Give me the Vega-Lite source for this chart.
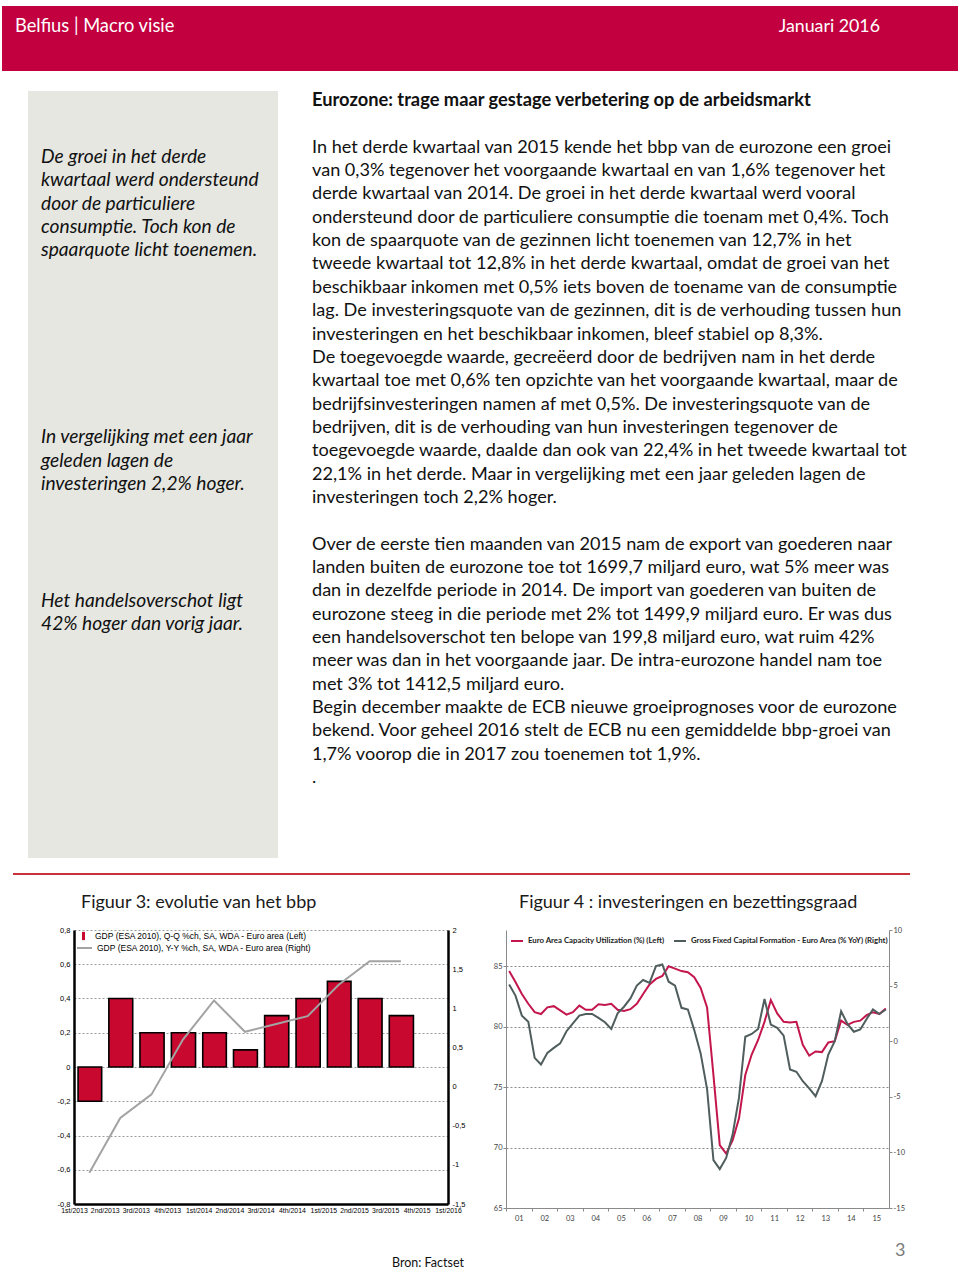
{
  "$schema": "https://vega.github.io/schema/vega-lite/v6.json",
  "background": "white",
  "padding": {"left": 2, "top": 6, "right": 0, "bottom": 0},
  "config": {"view": {"stroke": null}, "font": "Lato"},
  "spacing": 0,
  "bounds": "full",
  "resolve": {"scale": {"color": "independent", "fill": "independent", "stroke": "independent"}, "legend": {"color": "independent", "fill": "independent", "stroke": "independent"}},
  "vconcat": [
    {
      "width": 956, "height": 65,
      "view": {"fill": "#c3003f", "stroke": null},
      "layer": [
        {"data": {"values": [{"t": "Belfius | Macro visie"}]},
         "mark": {"type": "text", "align": "left", "baseline": "middle", "font": "Lato", "fontSize": 18.3, "color": "#ffffff"},
         "encoding": {"text": {"field": "t"}, "x": {"value": 13}, "y": {"value": 20.5}}},
        {"data": {"values": [{"t": "Januari 2016"}]},
         "mark": {"type": "text", "align": "right", "baseline": "middle", "font": "Lato", "fontSize": 17.8, "color": "#ffffff"},
         "encoding": {"text": {"field": "t"}, "x": {"value": 878}, "y": {"value": 20.5}}}
      ]
    },
    {"width": 1, "height": 20, "data": {"values": []}, "mark": {"type": "text", "text": ""}},
    {
      "spacing": 0,
      "bounds": "flush",
      "hconcat": [
        {"width": 26, "height": 767, "data": {"values": []}, "mark": {"type": "text", "text": ""}},
        {
          "width": 250, "height": 767,
          "view": {"fill": "#e6e7e1", "stroke": null},
          "data": {"values": [
            {"line": 0, "text": "De groei in het derde"},
            {"line": 1, "text": "kwartaal werd  ondersteund"},
            {"line": 2, "text": "door de particuliere"},
            {"line": 3, "text": "consumptie. Toch kon de"},
            {"line": 4, "text": "spaarquote licht toenemen."},
            {"line": 12, "text": " In vergelijking met een jaar"},
            {"line": 13, "text": "geleden lagen de"},
            {"line": 14, "text": "investeringen 2,2% hoger."},
            {"line": 19, "text": "Het handelsoverschot ligt"},
            {"line": 20, "text": "42% hoger dan vorig jaar."}
          ]},
          "mark": {"type": "text", "align": "left", "baseline": "middle", "font": "Lato", "fontStyle": "italic", "fontSize": 19.2, "color": "#111111"},
          "encoding": {
            "text": {"field": "text"},
            "x": {"value": 13},
            "y": {"field": "line", "type": "quantitative", "scale": {"domain": [0, 20], "range": [66, 533]}, "axis": null}
          }
        },
        {"width": 34, "height": 767, "data": {"values": []}, "mark": {"type": "text", "text": ""}},
        {
          "width": 600, "height": 767,
          "layer": [
            {
              "data": {"values": [{"line": 0, "text": "Eurozone: trage maar gestage verbetering op de arbeidsmarkt"}]},
              "mark": {"type": "text", "align": "left", "baseline": "middle", "font": "Lato", "fontWeight": "bold", "fontSize": 18.3, "color": "#111111"},
              "encoding": {
                "text": {"field": "text"},
                "x": {"value": 0},
                "y": {"field": "line", "type": "quantitative", "scale": {"domain": [0, 29], "range": [10, 687.2]}, "axis": null}
              }
            },
            {
              "data": {"values": [
                {"line": 2, "text": "In het derde kwartaal van 2015 kende het bbp van de eurozone een groei"},
                {"line": 3, "text": "van  0,3% tegenover het voorgaande kwartaal en van 1,6% tegenover het"},
                {"line": 4, "text": "derde kwartaal van 2014. De groei in het derde kwartaal werd vooral"},
                {"line": 5, "text": "ondersteund door de particuliere consumptie die toenam met 0,4%. Toch"},
                {"line": 6, "text": "kon de spaarquote van de gezinnen licht toenemen van 12,7% in het"},
                {"line": 7, "text": "tweede kwartaal tot 12,8% in het derde kwartaal, omdat de groei van het"},
                {"line": 8, "text": "beschikbaar inkomen met 0,5% iets boven de toename van de consumptie"},
                {"line": 9, "text": "lag. De investeringsquote van de gezinnen, dit is de verhouding tussen hun"},
                {"line": 10, "text": "investeringen en het beschikbaar inkomen, bleef stabiel op 8,3%."},
                {"line": 11, "text": "De toegevoegde waarde, gecreëerd door de bedrijven nam in het derde"},
                {"line": 12, "text": "kwartaal toe met 0,6% ten opzichte van het voorgaande kwartaal, maar de"},
                {"line": 13, "text": "bedrijfsinvesteringen namen af met 0,5%. De investeringsquote van de"},
                {"line": 14, "text": "bedrijven, dit is  de verhouding van hun investeringen tegenover de"},
                {"line": 15, "text": "toegevoegde waarde, daalde dan ook van 22,4% in het tweede kwartaal tot"},
                {"line": 16, "text": "22,1% in het derde. Maar in vergelijking met een jaar geleden lagen de"},
                {"line": 17, "text": "investeringen toch 2,2% hoger."},
                {"line": 19, "text": "Over de eerste tien maanden van 2015 nam de export van goederen naar"},
                {"line": 20, "text": "landen buiten de eurozone toe tot 1699,7 miljard euro, wat 5% meer was"},
                {"line": 21, "text": "dan in dezelfde periode in 2014. De import van goederen van buiten de"},
                {"line": 22, "text": "eurozone steeg in die periode met 2% tot 1499,9 miljard euro. Er was dus"},
                {"line": 23, "text": "een handelsoverschot ten belope van 199,8 miljard euro, wat ruim 42%"},
                {"line": 24, "text": "meer was dan in het voorgaande jaar. De intra-eurozone handel nam toe"},
                {"line": 25, "text": "met 3% tot 1412,5 miljard euro."},
                {"line": 26, "text": "Begin december maakte de ECB nieuwe groeiprognoses voor de eurozone"},
                {"line": 27, "text": "bekend. Voor geheel 2016 stelt de ECB nu een gemiddelde bbp-groei van"},
                {"line": 28, "text": "1,7% voorop  die in 2017 zou toenemen tot 1,9%."},
                {"line": 29, "text": "."}
              ]},
              "mark": {"type": "text", "align": "left", "baseline": "middle", "font": "Lato", "fontSize": 18.1, "color": "#111111"},
              "encoding": {
                "text": {"field": "text"},
                "x": {"value": 0},
                "y": {"field": "line", "type": "quantitative", "scale": {"domain": [0, 29], "range": [10, 687.2]}, "axis": null}
              }
            }
          ]
        }
      ]
    },
    {"width": 1, "height": 15, "data": {"values": []}, "mark": {"type": "text", "text": ""}},
    {
      "spacing": 0,
      "bounds": "flush",
      "hconcat": [
        {"width": 11, "height": 2, "data": {"values": []}, "mark": {"type": "text", "text": ""}},
        {"width": 897, "height": 2, "view": {"fill": "#c8323a", "stroke": null}, "data": {"values": []}, "mark": {"type": "text", "text": ""}}
      ]
    },
    {
      "width": 956, "height": 50.25,
      "layer": [
        {"data": {"values": [{"t": "Figuur 3: evolutie van het bbp"}]},
         "mark": {"type": "text", "align": "left", "baseline": "middle", "font": "Lato", "fontSize": 18, "color": "#1a1a1a"},
         "encoding": {"text": {"field": "t"}, "x": {"value": 79}, "y": {"value": 28}}},
        {"data": {"values": [{"t": "Figuur 4 : investeringen en bezettingsgraad"}]},
         "mark": {"type": "text", "align": "left", "baseline": "middle", "font": "Lato", "fontSize": 18, "color": "#1a1a1a"},
         "encoding": {"text": {"field": "t"}, "x": {"value": 517}, "y": {"value": 28}}}
      ]
    },
    {
      "spacing": 0,
      "bounds": "flush",
      "resolve": {"scale": {"color": "independent", "fill": "independent", "stroke": "independent"}, "legend": {"color": "independent", "fill": "independent", "stroke": "independent"}},
      "hconcat": [
        {"width": 72, "height": 278, "data": {"values": []}, "mark": {"type": "text", "text": ""}},
        {
          "width": 374, "height": 274,
          "data": {"values": [
            {"quarter": "2013-01-01", "qoq": -0.2, "yoy": -1.1},
            {"quarter": "2013-04-01", "qoq": 0.4, "yoy": -0.4},
            {"quarter": "2013-07-01", "qoq": 0.2, "yoy": -0.1},
            {"quarter": "2013-10-01", "qoq": 0.2, "yoy": 0.6},
            {"quarter": "2014-01-01", "qoq": 0.2, "yoy": 1.1},
            {"quarter": "2014-04-01", "qoq": 0.1, "yoy": 0.7},
            {"quarter": "2014-07-01", "qoq": 0.3, "yoy": 0.8},
            {"quarter": "2014-10-01", "qoq": 0.4, "yoy": 0.9},
            {"quarter": "2015-01-01", "qoq": 0.5, "yoy": 1.3},
            {"quarter": "2015-04-01", "qoq": 0.4, "yoy": 1.6},
            {"quarter": "2015-07-01", "qoq": 0.3, "yoy": 1.6}
          ]},
          "layer": [
            {
              "mark": {"type": "bar", "stroke": "#000000", "strokeWidth": 1.6, "width": {"band": 0.8}},
              "encoding": {
                "x": {"field": "quarter", "type": "temporal", "timeUnit": "utcyearquarter", "title": null,
                  "scale": {"type": "utc", "domain": [{"year": 2013, "month": 1, "date": 1, "utc": true}, {"year": 2016, "month": 1, "date": 1, "utc": true}]},
                  "axis": {
                    "values": [
                      {"year": 2013, "month": 1, "date": 1, "utc": true}, {"year": 2013, "month": 4, "date": 1, "utc": true}, {"year": 2013, "month": 7, "date": 1, "utc": true}, {"year": 2013, "month": 10, "date": 1, "utc": true},
                      {"year": 2014, "month": 1, "date": 1, "utc": true}, {"year": 2014, "month": 4, "date": 1, "utc": true}, {"year": 2014, "month": 7, "date": 1, "utc": true}, {"year": 2014, "month": 10, "date": 1, "utc": true},
                      {"year": 2015, "month": 1, "date": 1, "utc": true}, {"year": 2015, "month": 4, "date": 1, "utc": true}, {"year": 2015, "month": 7, "date": 1, "utc": true}, {"year": 2015, "month": 10, "date": 1, "utc": true},
                      {"year": 2016, "month": 1, "date": 1, "utc": true}
                    ],
                    "tickCount": 40,
                    "labelExpr": "['1st','2nd','3rd','4th'][utcquarter(datum.value)-1] + '/' + utcyear(datum.value)",
                    "grid": false, "ticks": false, "domainColor": "#000000", "domainWidth": 2.5,
                    "labelFont": "Liberation Sans", "labelFontSize": 6.9, "labelColor": "#000000", "labelPadding": 3,
                    "labelOverlap": false, "labelFlush": false, "labelBound": false
                  }
                },
                "y": {"field": "qoq", "type": "quantitative", "title": null,
                  "scale": {"domain": [-0.8, 0.8], "nice": false},
                  "axis": {
                    "values": [-0.8, -0.6, -0.4, -0.2, 0, 0.2, 0.4, 0.6, 0.8],
                    "tickCount": 40,
                    "labelExpr": "replace('' + datum.value, '.', ',')",
                    "grid": true, "gridDash": [2, 2], "gridColor": "#9a9a9a", "gridWidth": 1,
                    "ticks": false, "domainColor": "#000000", "domainWidth": 2.5,
                    "labelFont": "Liberation Sans", "labelFontSize": 7.5, "labelColor": "#000000", "labelPadding": 4
                  }
                },
                "fill": {"datum": "GDP (ESA 2010), Q-Q %ch, SA, WDA - Euro area (Left)", "type": "nominal",
                  "scale": {"range": ["#c9082f"]},
                  "legend": {
                    "orient": "none", "legendX": 2, "legendY": -1.5, "title": null,
                    "labelFont": "Liberation Sans", "labelFontSize": 8.5, "labelColor": "#000000", "labelLimit": 400, "labelOffset": 4,
                    "symbolType": "M-0.2,-0.55H0.2V0.55H-0.2Z", "symbolSize": 225, "symbolStrokeWidth": 0, "padding": 0
                  }
                }
              }
            },
            {
              "mark": {"type": "line", "strokeWidth": 2},
              "encoding": {
                "x": {"field": "quarter", "type": "temporal", "timeUnit": "utcyearquarter", "bandPosition": 0.5, "title": null},
                "y": {"field": "yoy", "type": "quantitative", "title": null,
                  "scale": {"domain": [-1.5, 2], "nice": false},
                  "axis": {
                    "orient": "right",
                    "values": [-1.5, -1, -0.5, 0, 0.5, 1, 1.5, 2],
                    "tickCount": 40,
                    "labelExpr": "replace('' + datum.value, '.', ',')",
                    "grid": false, "ticks": false, "domainColor": "#000000", "domainWidth": 2.5,
                    "labelFont": "Liberation Sans", "labelFontSize": 7.5, "labelColor": "#000000", "labelPadding": 4
                  }
                },
                "stroke": {"datum": "GDP (ESA 2010), Y-Y %ch, SA, WDA - Euro area (Right)", "type": "nominal",
                  "scale": {"range": ["#a3a3a3"]},
                  "legend": {
                    "orient": "none", "legendX": 2, "legendY": 9.5, "title": null,
                    "labelFont": "Liberation Sans", "labelFontSize": 8.5, "labelColor": "#000000", "labelLimit": 400, "labelOffset": 4,
                    "symbolType": "stroke", "symbolSize": 225, "symbolStrokeWidth": 2, "padding": 0
                  }
                }
              }
            }
          ],
          "resolve": {"scale": {"y": "independent"}}
        },
        {"width": 58, "height": 278, "data": {"values": []}, "mark": {"type": "text", "text": ""}},
        {
          "width": 383, "height": 278,
          "data": {"values": [
            {"date": "2001-01-01", "cu": 84.6, "gfcf": 5.1},
            {"date": "2001-04-01", "cu": 83.7, "gfcf": 4.1},
            {"date": "2001-07-01", "cu": 82.7, "gfcf": 2.3},
            {"date": "2001-10-01", "cu": 81.9, "gfcf": 1.75},
            {"date": "2002-01-01", "cu": 81.2, "gfcf": -1.5},
            {"date": "2002-04-01", "cu": 81.05, "gfcf": -2.1},
            {"date": "2002-07-01", "cu": 81.6, "gfcf": -1.05},
            {"date": "2002-10-01", "cu": 81.7, "gfcf": -0.6},
            {"date": "2003-01-01", "cu": 81.35, "gfcf": -0.2},
            {"date": "2003-04-01", "cu": 81.0, "gfcf": 0.9},
            {"date": "2003-07-01", "cu": 81.2, "gfcf": 1.6},
            {"date": "2003-10-01", "cu": 81.75, "gfcf": 2.3},
            {"date": "2004-01-01", "cu": 81.4, "gfcf": 2.45},
            {"date": "2004-04-01", "cu": 81.4, "gfcf": 2.45},
            {"date": "2004-07-01", "cu": 81.85, "gfcf": 2.1},
            {"date": "2004-10-01", "cu": 81.8, "gfcf": 1.7},
            {"date": "2005-01-01", "cu": 81.9, "gfcf": 1.1},
            {"date": "2005-04-01", "cu": 81.4, "gfcf": 2.5},
            {"date": "2005-07-01", "cu": 81.3, "gfcf": 3.1},
            {"date": "2005-10-01", "cu": 81.45, "gfcf": 3.85},
            {"date": "2006-01-01", "cu": 81.9, "gfcf": 5.0},
            {"date": "2006-04-01", "cu": 82.7, "gfcf": 5.5},
            {"date": "2006-07-01", "cu": 83.5, "gfcf": 5.25},
            {"date": "2006-10-01", "cu": 83.95, "gfcf": 6.75},
            {"date": "2007-01-01", "cu": 84.2, "gfcf": 6.9},
            {"date": "2007-04-01", "cu": 85.0, "gfcf": 5.35},
            {"date": "2007-07-01", "cu": 84.8, "gfcf": 5.0},
            {"date": "2007-10-01", "cu": 84.6, "gfcf": 3.0},
            {"date": "2008-01-01", "cu": 84.5, "gfcf": 2.85},
            {"date": "2008-04-01", "cu": 84.1, "gfcf": 1.0},
            {"date": "2008-07-01", "cu": 83.2, "gfcf": -1.1},
            {"date": "2008-10-01", "cu": 81.6, "gfcf": -4.3},
            {"date": "2009-01-01", "cu": 76.0, "gfcf": -10.7},
            {"date": "2009-04-01", "cu": 70.2, "gfcf": -11.5},
            {"date": "2009-07-01", "cu": 69.5, "gfcf": -10.5},
            {"date": "2009-10-01", "cu": 70.6, "gfcf": -8.4},
            {"date": "2010-01-01", "cu": 72.4, "gfcf": -5.1},
            {"date": "2010-04-01", "cu": 76.0, "gfcf": 0.4},
            {"date": "2010-07-01", "cu": 77.7, "gfcf": 0.65},
            {"date": "2010-10-01", "cu": 78.9, "gfcf": 1.1},
            {"date": "2011-01-01", "cu": 80.4, "gfcf": 3.8},
            {"date": "2011-04-01", "cu": 82.2, "gfcf": 1.5},
            {"date": "2011-07-01", "cu": 81.1, "gfcf": 1.2},
            {"date": "2011-10-01", "cu": 80.4, "gfcf": 0.5},
            {"date": "2012-01-01", "cu": 80.35, "gfcf": -2.55},
            {"date": "2012-04-01", "cu": 80.4, "gfcf": -2.75},
            {"date": "2012-07-01", "cu": 78.5, "gfcf": -3.6},
            {"date": "2012-10-01", "cu": 77.6, "gfcf": -4.25},
            {"date": "2013-01-01", "cu": 77.95, "gfcf": -4.95},
            {"date": "2013-04-01", "cu": 77.9, "gfcf": -3.6},
            {"date": "2013-07-01", "cu": 78.7, "gfcf": -1.2},
            {"date": "2013-10-01", "cu": 78.8, "gfcf": 0.0},
            {"date": "2014-01-01", "cu": 80.5, "gfcf": 2.7},
            {"date": "2014-04-01", "cu": 80.15, "gfcf": 1.55},
            {"date": "2014-07-01", "cu": 80.4, "gfcf": 0.85},
            {"date": "2014-10-01", "cu": 80.5, "gfcf": 1.05},
            {"date": "2015-01-01", "cu": 80.95, "gfcf": 2.0},
            {"date": "2015-04-01", "cu": 81.2, "gfcf": 2.85},
            {"date": "2015-07-01", "cu": 81.05, "gfcf": 2.45},
            {"date": "2015-10-01", "cu": 81.5, "gfcf": 2.85}
          ]},
          "layer": [
            {
              "mark": {"type": "line", "strokeWidth": 2},
              "encoding": {
                "x": {"field": "date", "type": "temporal", "timeUnit": "utcyearquarter", "bandPosition": 0.5, "title": null,
                  "scale": {"type": "utc", "domain": [{"year": 2001, "month": 1, "date": 1, "utc": true}, {"year": 2016, "month": 1, "date": 1, "utc": true}]},
                  "axis": {
                    "values": [
                      {"year": 2001, "month": 1, "date": 1, "utc": true}, {"year": 2002, "month": 1, "date": 1, "utc": true}, {"year": 2003, "month": 1, "date": 1, "utc": true},
                      {"year": 2004, "month": 1, "date": 1, "utc": true}, {"year": 2005, "month": 1, "date": 1, "utc": true}, {"year": 2006, "month": 1, "date": 1, "utc": true},
                      {"year": 2007, "month": 1, "date": 1, "utc": true}, {"year": 2008, "month": 1, "date": 1, "utc": true}, {"year": 2009, "month": 1, "date": 1, "utc": true},
                      {"year": 2010, "month": 1, "date": 1, "utc": true}, {"year": 2011, "month": 1, "date": 1, "utc": true}, {"year": 2012, "month": 1, "date": 1, "utc": true},
                      {"year": 2013, "month": 1, "date": 1, "utc": true}, {"year": 2014, "month": 1, "date": 1, "utc": true}, {"year": 2015, "month": 1, "date": 1, "utc": true}
                    ],
                    "tickCount": 40,
                    "labelExpr": "utcFormat(datum.value, '%y')",
                    "grid": false, "ticks": true, "tickSize": 3, "tickColor": "#8a8a8a", "domainColor": "#8a8a8a", "domainWidth": 1,
                    "labelFont": "Lato", "labelFontSize": 7.5, "labelColor": "#444444", "labelPadding": 3, "labelOffset": 12.8,
                    "labelOverlap": false, "labelFlush": false, "labelBound": false
                  }
                },
                "y": {"field": "cu", "type": "quantitative", "title": null,
                  "scale": {"domain": [65, 88], "nice": false, "zero": false},
                  "axis": {
                    "values": [65, 70, 75, 80, 85],
                    "tickCount": 40,
                    "labelExpr": "'' + datum.value",
                    "grid": true, "gridDash": [2, 2], "gridColor": "#8a8a8a", "gridWidth": 1,
                    "ticks": true, "tickSize": 3, "tickColor": "#8a8a8a", "domainColor": "#8a8a8a", "domainWidth": 1,
                    "labelFont": "Lato", "labelFontSize": 7.5, "labelColor": "#444444", "labelPadding": 1
                  }
                },
                "color": {"datum": "Euro Area Capacity Utilization (%) (Left)", "type": "nominal",
                  "scale": {"domain": ["Euro Area Capacity Utilization (%) (Left)", "Gross Fixed Capital Formation - Euro Area (% YoY) (Right)"], "range": ["#c3164d", "#4f5d5d"]},
                  "legend": {
                    "orient": "top-left", "direction": "horizontal", "offset": 4, "title": null,
                    "labelFont": "Lato", "labelFontSize": 7.8, "labelFontWeight": "bold", "labelColor": "#222222", "labelLimit": 400, "labelOffset": 4,
                    "columnPadding": 5, "symbolType": "stroke", "symbolSize": 144, "symbolStrokeWidth": 2, "padding": 0
                  }
                }
              }
            },
            {
              "mark": {"type": "line", "strokeWidth": 2},
              "encoding": {
                "x": {"field": "date", "type": "temporal", "timeUnit": "utcyearquarter", "bandPosition": 0.5, "title": null},
                "y": {"field": "gfcf", "type": "quantitative", "title": null,
                  "scale": {"domain": [-15, 10], "nice": false, "zero": false},
                  "axis": {
                    "orient": "right",
                    "values": [-15, -10, -5, 0, 5, 10],
                    "tickCount": 40,
                    "labelExpr": "'' + datum.value",
                    "grid": false, "ticks": true, "tickSize": 3, "tickColor": "#8a8a8a", "domainColor": "#8a8a8a", "domainWidth": 1,
                    "labelFont": "Lato", "labelFontSize": 7.5, "labelColor": "#444444", "labelPadding": 1
                  }
                },
                "color": {"datum": "Gross Fixed Capital Formation - Euro Area (% YoY) (Right)", "type": "nominal"}
              }
            }
          ],
          "resolve": {"scale": {"y": "independent"}}
        }
      ]
    },
    {
      "width": 956, "height": 50,
      "layer": [
        {"data": {"values": [{"t": "Bron: Factset"}]},
         "mark": {"type": "text", "align": "left", "baseline": "middle", "font": "Lato", "fontSize": 12.5, "color": "#111111"},
         "encoding": {"text": {"field": "t"}, "x": {"value": 390}, "y": {"value": 40.5}}},
        {"data": {"values": [{"t": "3"}]},
         "mark": {"type": "text", "align": "left", "baseline": "middle", "font": "Lato", "fontSize": 18, "color": "#7a7a7a"},
         "encoding": {"text": {"field": "t"}, "x": {"value": 893}, "y": {"value": 29}}}
      ]
    }
  ]
}
